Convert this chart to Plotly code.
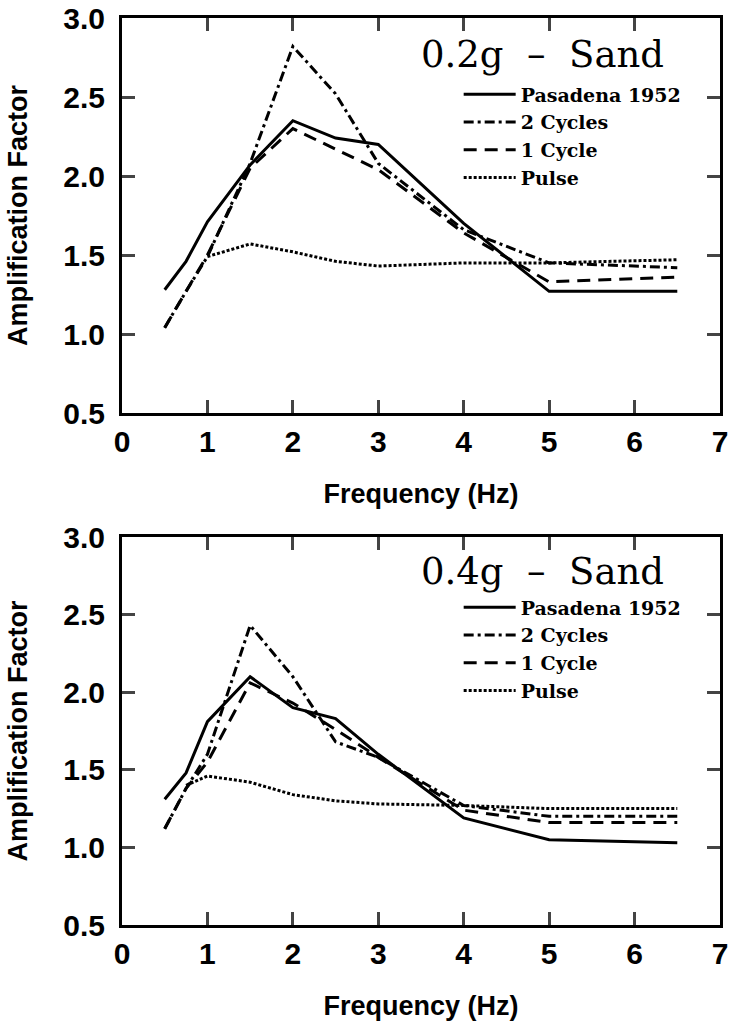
import plotly.graph_objects as go

freq = [0.5, 0.75, 1.0, 1.5, 2.0, 2.5, 3.0, 4.0, 5.0, 6.5]

top_pasadena = [1.28, 1.46, 1.71, 2.07, 2.35, 2.24, 2.20, 1.70, 1.27, 1.27]
top_2cycles = [1.04, 1.27, 1.49, 2.08, 2.82, 2.52, 2.08, 1.66, 1.45, 1.42]
top_1cycle = [1.04, 1.27, 1.50, 2.05, 2.30, 2.17, 2.04, 1.64, 1.33, 1.36]
top_pulse_freq = [1.0, 1.5, 2.0, 2.5, 3.0, 4.0, 5.0, 6.5]
top_pulse = [1.49, 1.57, 1.52, 1.46, 1.43, 1.45, 1.45, 1.47]

bot_pasadena = [1.31, 1.48, 1.81, 2.10, 1.90, 1.83, 1.60, 1.19, 1.05, 1.03]
bot_2cycles = [1.12, 1.38, 1.60, 2.43, 2.10, 1.68, 1.58, 1.27, 1.20, 1.20]
bot_1cycle = [1.12, 1.38, 1.55, 2.06, 1.93, 1.76, 1.58, 1.24, 1.16, 1.16]
bot_pulse_freq = [0.75, 1.0, 1.5, 2.0, 2.5, 3.0, 4.0, 5.0, 6.5]
bot_pulse = [1.40, 1.46, 1.42, 1.34, 1.30, 1.28, 1.27, 1.25, 1.25]

series_names = ["Pasadena 1952", "2 Cycles", "1 Cycle", "Pulse"]
dashes = ["solid", "10px,4px,3px,4px", "13px,8px", "3px,2px"]
titles = ["0.2g\u00a0\u00a0\u2013\u00a0\u00a0Sand", "0.4g\u00a0\u00a0\u2013\u00a0\u00a0Sand"]
x_ticks = [0, 1, 2, 3, 4, 5, 6, 7]
y_ticks = [0.5, 1.0, 1.5, 2.0, 2.5, 3.0]

fig = go.Figure()

panels = [
    ("x", "y", "legend", [(freq, top_pasadena), (freq, top_2cycles), (freq, top_1cycle), (top_pulse_freq, top_pulse)]),
    ("x2", "y2", "legend2", [(freq, bot_pasadena), (freq, bot_2cycles), (freq, bot_1cycle), (bot_pulse_freq, bot_pulse)]),
]

for xa, ya, lg, data in panels:
    for name, dash, (xs, ys) in zip(series_names, dashes, data):
        fig.add_trace(go.Scatter(
            x=xs, y=ys, mode="lines", name=name,
            line=dict(color="black", width=3, dash=dash),
            xaxis=xa, yaxis=ya, legend=lg,
        ))

W, H = 729, 1025
L, R, T, B = 122, 9, 18, 100
ph = H - T - B
top_dom = [(925 - 413) / ph, 1.0]
bot_dom = [0.0, (925 - 537) / ph]

tick_font = dict(family="Liberation Sans, Arial, sans-serif", size=30, color="black", weight="bold")
title_font = dict(family="Liberation Sans, Arial, sans-serif", size=27, color="black", weight="bold")

def xaxis(dom_anchor):
    return dict(range=[0, 7], tickvals=x_ticks, ticks="inside", ticklen=13, tickwidth=3,
                showline=True, linewidth=3, linecolor="black", mirror="allticks",
                showgrid=False, zeroline=False, tickfont=tick_font, automargin=False,
                ticklabeloverflow="allow",
                title=dict(text="Frequency (Hz)", font=title_font, standoff=28),
                anchor=dom_anchor)

def yaxis(dom, anchor):
    return dict(range=[0.5, 3.0], tickvals=y_ticks, tickformat=".1f", ticks="inside", ticklen=13,
                tickwidth=3, showline=True, linewidth=3, linecolor="black", mirror="allticks",
                showgrid=False, zeroline=False, tickfont=tick_font, domain=dom, automargin=False,
                ticklabelstandoff=8, ticklabeloverflow="allow",
                title=dict(text="Amplification Factor", font=title_font, standoff=28),
                anchor=anchor)

legend_common = dict(font=dict(family="DejaVu Serif, serif", size=19, color="black", weight="bold"),
                     bgcolor="rgba(0,0,0,0)", borderwidth=0, tracegroupgap=0, itemwidth=52,
                     xanchor="left", yanchor="top", x=0.563)

ann_font = dict(family="DejaVu Serif, serif", size=37, color="black")

fig.update_layout(
    width=W, height=H, margin=dict(l=L, r=R, t=T, b=B),
    paper_bgcolor="white", plot_bgcolor="white",
    xaxis=xaxis("y"), yaxis=yaxis(top_dom, "x"),
    xaxis2=xaxis("y2"), yaxis2=yaxis(bot_dom, "x2"),
    legend=dict(**legend_common, y=1 - (75.5 - T) / ph),
    legend2=dict(**legend_common, y=1 - (588.5 - T) / ph),
    showlegend=True,
    annotations=[
        dict(text=titles[0], xref="x", yref="y", x=6.37, y=2.77, xanchor="right", yanchor="middle",
             showarrow=False, font=ann_font),
        dict(text=titles[1], xref="x2", yref="y2", x=6.37, y=2.777, xanchor="right", yanchor="middle",
             showarrow=False, font=ann_font),
    ],
)

fig.write_html("out.html",
               config={"displayModeBar": False, "staticPlot": True},
               post_script="document.body.style.margin='0';document.body.style.overflow='hidden';")
